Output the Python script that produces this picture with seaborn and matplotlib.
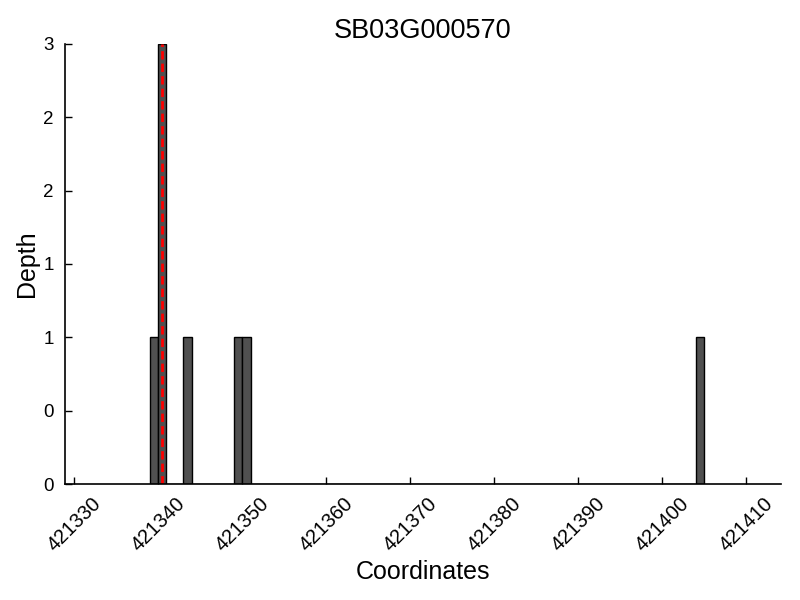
import matplotlib
matplotlib.use("Agg")
import matplotlib.pyplot as plt
import seaborn as sns
import numpy as np
import pandas as pd
from matplotlib.ticker import FormatStrFormatter, MultipleLocator

positions = [421339, 421340, 421343, 421349, 421350, 421404]
depths = [1, 3, 1, 1, 1, 1]
marker_pos = 421340.5
title = "SB03G000570"

sns.set_style("ticks", {"axes.edgecolor": "black", "text.color": "black",
                        "axes.labelcolor": "black", "xtick.color": "black",
                        "ytick.color": "black"})
plt.rcParams['font.family'] = ['Liberation Sans', 'DejaVu Sans']

df = pd.DataFrame({"pos": positions, "depth": depths})

fig = plt.figure(figsize=(8, 6), dpi=100)
ax = fig.add_axes([0.081, 0.193, 0.895, 0.734])

sns.histplot(data=df, x="pos", weights="depth", binwidth=1, binrange=(421339, 421405),
             color="#505050", edgecolor="black", linewidth=1.0, alpha=1, ax=ax)

ax.axvline(marker_pos, color="red", linestyle=(0, (3, 1.5)), linewidth=2)

ax.set_xlim(421328.9, 421414.1)
ax.set_ylim(0, 3)
ax.xaxis.set_major_locator(MultipleLocator(10))
ax.yaxis.set_major_locator(MultipleLocator(0.5))
ax.yaxis.set_major_formatter(FormatStrFormatter('%d'))
ax.xaxis.set_major_formatter(FormatStrFormatter('%d'))
ax.tick_params(direction='in', length=5, width=1)
ax.tick_params(axis='x', labelsize=14.5, pad=7)
ax.tick_params(axis='y', labelsize=13.5, pad=8)
for lab in ax.get_xticklabels():
    lab.set_rotation(45)
    lab.set_ha('center')
for s in ax.spines.values():
    s.set_linewidth(1.2)
    s.set_color("black")
ax.set_xlabel("Coordinates", fontsize=18, labelpad=4)
ax.set_ylabel("Depth", fontsize=18, labelpad=3)
ax.set_title(title, fontsize=19.5, pad=4)
sns.despine(ax=ax)

fig.savefig("out.png", dpi=100)
